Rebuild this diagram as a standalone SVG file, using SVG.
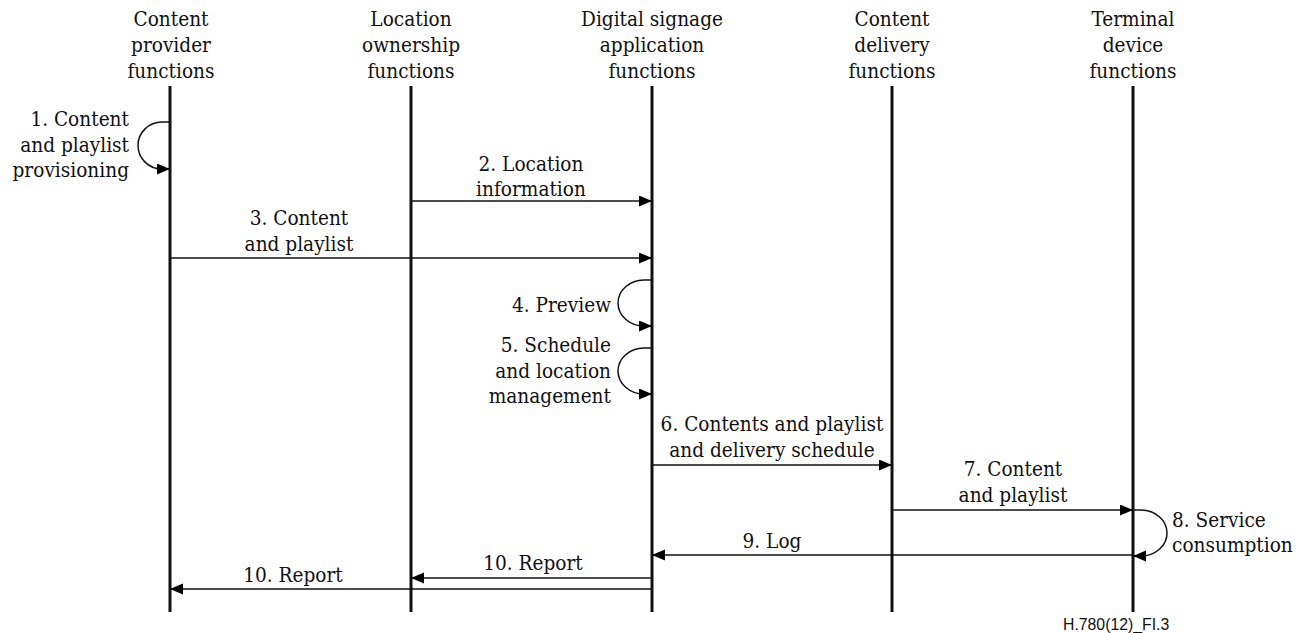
<svg xmlns="http://www.w3.org/2000/svg" width="1313" height="633" viewBox="0 0 1313 633">
<defs>
<marker id="ah" markerUnits="userSpaceOnUse" markerWidth="14" markerHeight="12" refX="13" refY="5.5" orient="auto">
<path d="M0,0 L13,5.5 L0,11 z" fill="#000"/>
</marker>
<style>
text{font-family:'DejaVu Serif Condensed','DejaVu Serif',serif;font-stretch:condensed;font-size:20.6px;fill:#111}
.c{text-anchor:middle}
.r{text-anchor:end}
.l{text-anchor:start}
.life{stroke:#111;stroke-width:3}
.msg{stroke:#111;stroke-width:1.5;fill:none;marker-end:url(#ah)}
text.foot{font-family:'Liberation Sans',Arial,sans-serif;font-stretch:normal;font-size:15.8px}
</style>
</defs>
<rect width="1313" height="633" fill="#fff"/>
<g id="cp">
<text class="c" x="171" y="26">Content</text>
<text class="c" x="171" y="52">provider</text>
<text class="c" x="171" y="78">functions</text>
<line class="life" x1="170" y1="86" x2="170" y2="612"/>
</g>
<g id="lo">
<text class="c" x="411" y="26">Location</text>
<text class="c" x="411" y="52">ownership</text>
<text class="c" x="411" y="78">functions</text>
<line class="life" x1="411" y1="86" x2="411" y2="612"/>
</g>
<g id="ds">
<text class="c" x="652" y="26">Digital signage</text>
<text class="c" x="652" y="52">application</text>
<text class="c" x="652" y="78">functions</text>
<line class="life" x1="652" y1="86" x2="652" y2="612"/>
</g>
<g id="cd">
<text class="c" x="892" y="26">Content</text>
<text class="c" x="892" y="52">delivery</text>
<text class="c" x="892" y="78">functions</text>
<line class="life" x1="892" y1="86" x2="892" y2="612"/>
</g>
<g id="td">
<text class="c" x="1133" y="26">Terminal</text>
<text class="c" x="1133" y="52">device</text>
<text class="c" x="1133" y="78">functions</text>
<line class="life" x1="1133" y1="86" x2="1133" y2="612"/>
</g>
<g id="connectors">
<path class="msg" d="M170,122 H162 A24,23.5 0 0 0 162,169 H170"/>
<path class="msg" d="M411,201 H652"/>
<path class="msg" d="M170,258 H652"/>
<path class="msg" d="M652,280 H644 A26,23 0 0 0 644,326 H652"/>
<path class="msg" d="M652,348 H644 A26,23 0 0 0 644,394 H652"/>
<path class="msg" d="M652,465 H892"/>
<path class="msg" d="M892,510 H1133"/>
<path class="msg" d="M1133,510 H1141 A26,23 0 0 1 1141,556 H1133"/>
<path class="msg" d="M1133,555 H652"/>
<path class="msg" d="M652,578 H411"/>
<path class="msg" d="M652,589 H170"/>
</g>
<g id="labels">
<text class="r" x="129" y="126">1. Content</text>
<text class="r" x="129" y="152">and playlist</text>
<text class="r" x="129" y="177">provisioning</text>
<text class="c" x="531" y="171">2. Location</text>
<text class="c" x="531" y="196">information</text>
<text class="c" x="299" y="225">3. Content</text>
<text class="c" x="299" y="251">and playlist</text>
<text class="r" x="611" y="312">4. Preview</text>
<text class="r" x="611" y="352">5. Schedule</text>
<text class="r" x="611" y="378">and location</text>
<text class="r" x="611" y="403">management</text>
<text class="c" x="772" y="431">6. Contents and playlist</text>
<text class="c" x="772" y="457">and delivery schedule</text>
<text class="c" x="1013" y="476">7. Content</text>
<text class="c" x="1013" y="502">and playlist</text>
<text class="l" x="1172" y="527">8. Service</text>
<text class="l" x="1172" y="552">consumption</text>
<text class="c" x="772" y="548">9. Log</text>
<text class="c" x="533" y="570">10. Report</text>
<text class="c" x="293" y="582">10. Report</text>
</g>
<text class="foot" x="1063" y="630">H.780(12)_FI.3</text>
</svg>
